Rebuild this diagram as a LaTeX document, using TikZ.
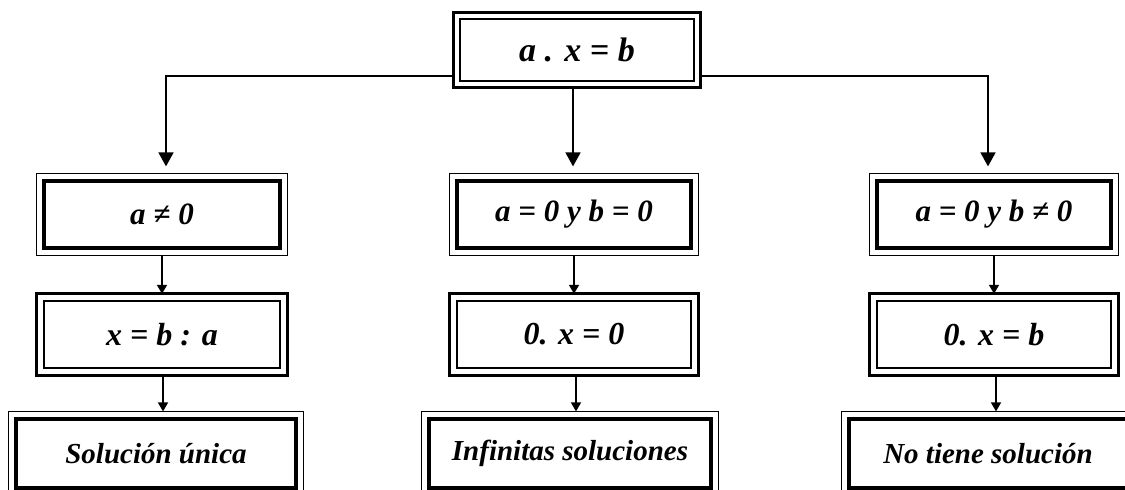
\documentclass[tikz,border=0pt]{standalone}
\usepackage{fontspec}
\setmainfont{Liberation Serif}
\usetikzlibrary{arrows.meta,calc}
\tikzset{
  conn/.style={line width=0.85pt},
  bigarr/.style={conn,-{Triangle[width=7.5pt,length=7pt]}},
  smallarr/.style={conn,-{Triangle[width=5pt,length=4.5pt]}}
}
% #1 name, #2 position, #3 outer width px, #4 outer height px, #5 outer lw, #6 inner lw, #7 font pt, #8 text
\newcommand\dbox[8]{%
  \node[draw, line width=#6, rectangle, inner sep=0pt,
        minimum width={(#3-12)*0.5pt}, minimum height={(#4-12)*0.5pt},
        font=\fontsize{#7}{#7}\selectfont\bfseries\itshape] (#1) at (#2) {#8};
  \draw[line width=#5] ([shift={(-3pt,3pt)}]#1.north west) rectangle ([shift={(3pt,-3pt)}]#1.south east);
}
\begin{document}
\begin{tikzpicture}[x=0.5pt,y=-0.5pt]
\clip (0,0) rectangle (1125,490);
\fill[white] (0,0) rectangle (1125,490);
% top
\dbox{top}{577,50}{246}{74}{1.35pt}{0.7pt}{17}{a . x = b}
% row 2
\dbox{rl}{162,214.5}{248}{79}{0.8pt}{1.6pt}{15.5}{a ≠ 0}
\dbox{rm}{574,214.5}{246}{79}{0.8pt}{1.6pt}{15.5}{a = 0 y b = 0}
\dbox{rr}{994,214.5}{246}{79}{0.8pt}{1.6pt}{15.5}{a = 0 y b ≠ 0}
% row 3
\dbox{sl}{162,334.5}{248}{79}{1.35pt}{1.2pt}{16}{x = b : a}
\dbox{sm}{574,334.5}{246}{79}{1.35pt}{1.2pt}{16}{0. x = 0}
\dbox{sr}{994,334.5}{246}{79}{1.35pt}{1.2pt}{16}{0. x = b}
% row 4
\dbox{ul}{156,453.5}{292}{81}{0.8pt}{1.6pt}{14.5}{Solución única}
\dbox{um}{570,453.5}{294}{81}{0.8pt}{1.6pt}{14.5}{Infinitas soluciones}
\dbox{ur}{988,453.5}{290}{81}{0.8pt}{1.6pt}{14.5}{No tiene solución}
% connectors from top
\coordinate (jl) at (166,76);
\coordinate (jr) at (988,76);
\draw[bigarr, shorten >=6.5pt] ([xshift=-3pt]top.west |- jl) -| ([xshift=2pt]rl.north);
\draw[bigarr, shorten >=6.5pt] ([xshift=3pt]top.east |- jr) -| ([xshift=-3pt]rr.north);
\draw[bigarr, shorten >=6.5pt] ([shift={(-2pt,-3pt)}]top.south) -- ([xshift=-2pt]top.south |- rm.north);
% row 2 -> row 3
\foreach \a/\b in {rl/sl, rm/sm, rr/sr}{
  \draw[smallarr, shorten >=3pt] ([yshift=-3pt]\a.south) -- (\b.north);
}
% row 3 -> row 4
\draw[smallarr, shorten >=3pt] ([shift={(0.5pt,-3pt)}]sl.south) -- ([xshift=0.5pt]sl.south |- ul.north);
\draw[smallarr, shorten >=3pt] ([shift={(1pt,-3pt)}]sm.south) -- ([xshift=1pt]sm.south |- um.north);
\draw[smallarr, shorten >=3pt] ([shift={(1pt,-3pt)}]sr.south) -- ([xshift=1pt]sr.south |- ur.north);
\end{tikzpicture}
\end{document}
